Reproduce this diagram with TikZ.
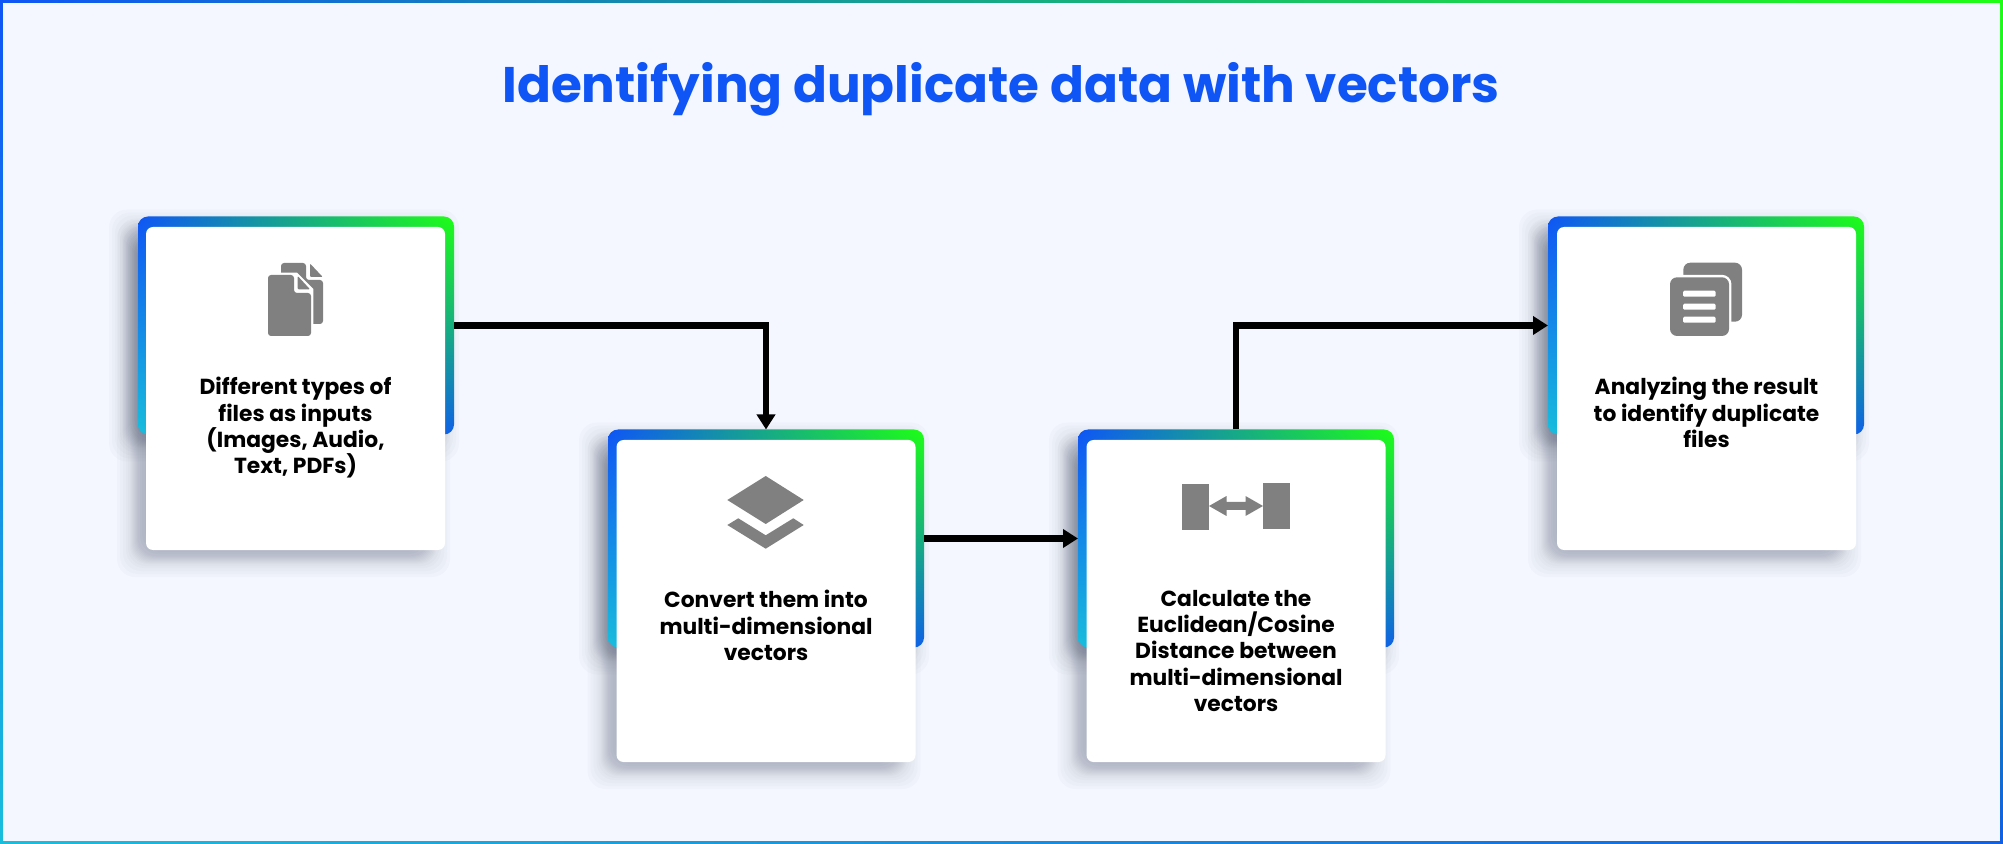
\documentclass[tikz,border=0pt]{standalone}
\usepackage{fontspec}
\setmainfont{Poppins}
\usetikzlibrary{arrows.meta,positioning,calc,shadings,backgrounds}
\definecolor{gblue}{HTML}{0F55F5}
\definecolor{ggreen}{HTML}{1EFF14}
\definecolor{gcyan}{HTML}{18BEDC}
\definecolor{gblue2}{HTML}{0F60E6}
\definecolor{pagebg}{HTML}{F4F7FF}
\definecolor{icongray}{HTML}{808080}
\definecolor{shadowcol}{HTML}{1E2846}
\begin{document}
\begin{tikzpicture}[x=0.5pt,y=-0.5pt,
        gradfill/.style={upper left=gblue,upper right=ggreen,lower left=gcyan,lower right=gblue2},
        frame/.style={gradfill,rounded corners=5pt,minimum width=158pt,minimum height=109pt,inner sep=0pt,outer sep=0pt},
        card/.style={fill=white,rounded corners=3.5pt,minimum width=149.5pt,inner sep=0pt,outer sep=0pt},
        label/.style={font=\bfseries\fontsize{10.9}{13.1}\selectfont,align=center,inner sep=0pt},
        flow/.style={line width=3.1pt,-{Triangle[length=7.5pt,width=9pt]}},
        icon/.style={fill=icongray},
        gap/.style={draw=white,line width=2.4pt,fill=white}]
        \useasboundingbox (0,0) rectangle (2003,844);
        \node[font=\bfseries\fontsize{25}{30}\selectfont,text=gblue,inner sep=0pt] (title) at (1001,89.5) {Identifying duplicate data with vectors};

        \node[frame] (f1) at (296,325.5) {};
        \node[frame] (f2) at (766,538.5) {};
        \node[frame] (f3) at (1236,538.5) {};
        \node[frame] (f4) at (1706,325.5) {};
        \node[card,minimum height=161.5pt] (c1) at (295.5,388.5) {};
        \node[card,minimum height=161pt] (c2) at (766,601) {};
        \node[card,minimum height=161pt] (c3) at (1236,601) {};
        \node[card,minimum height=161.5pt] (c4) at (1706.5,388.5) {};

        \begin{scope}[on background layer]
                \shade[gradfill] (0,0) rectangle (2003,844);
                \fill[pagebg] (3,3) rectangle (2000,841);
                \foreach \c in {f1,f2,f3,f4,c1,c2,c3,c4} {
                        \foreach \s in {-17,-14,-11,-8,-6,-4,-3,-2,-1,0,1,2,3,4,6,8,11,14,17} {
                                \fill[shadowcol,opacity=.018,rounded corners=9pt] ($(\c.south west)+(-12-\s,10+\s)$) rectangle ($(\c.north east)+(-12+\s,10-\s)$);
                        }
                }
        \end{scope}

        \node[label,below=75pt of c1.north] (t1) {Different types of\\files as inputs\\(Images, Audio,\\Text, PDFs)};
        \node[label,below=75pt of c2.north] (t2) {Convert them into\\multi-dimensional\\vectors};
        \node[label,below=75pt of c3.north] (t3) {Calculate the\\Euclidean/Cosine\\Distance between\\multi-dimensional\\vectors};
        \node[label,below=75pt of c4.north] (t4) {Analyzing the result\\to identify duplicate\\files};

        \draw[flow] (f1.east) -| (f2.north);
        \draw[flow] (f2) -- (f3);
        \draw[flow] (f3.north) |- (f4.west);

        % files icon
        \fill[icon,rounded corners=1.5pt] (281,263) -- (306,263) -- (306,280) -- (323,280) -- (323,324) -- (281,324) -- cycle;
        \fill[icon,rounded corners=.5pt] (310,263.5) -- (322.7,277) -- (310,277) -- cycle;
        \filldraw[gap] (268,275) -- (296,275) -- (311,290) -- (311,336) -- (268,336) -- cycle;
        \fill[icon,rounded corners=1.5pt] (268,275) -- (294,275) -- (294,293) -- (311,293) -- (311,336) -- (268,336) -- cycle;
        \fill[icon,rounded corners=.5pt] (297.7,276) -- (310,289.3) -- (297.7,289.3) -- cycle;

        % layers icon
        \fill[icon] (765.7,476) -- (803.7,500) -- (765.7,524) -- (727.3,500) -- cycle;
        \fill[icon] (727.3,525) -- (738.3,518.3) -- (765.7,535.3) -- (793.3,518.3) -- (803.7,525) -- (765.7,548.7) -- cycle;

        % distance icon
        \fill[icon] (1182,484) rectangle (1209,530);
        \fill[icon] (1263,483) rectangle (1290,529);
        \fill[icon] (1209,506) -- (1226.5,496) -- (1226.5,502) -- (1245.5,502) -- (1245.5,496) -- (1263,506) -- (1245.5,516) -- (1245.5,510) -- (1226.5,510) -- (1226.5,516) -- cycle;

        % result icon
        \fill[icon,rounded corners=3.5pt] (1683.3,262.7) rectangle (1742,321.7);
        \filldraw[gap,rounded corners=3.5pt] (1670,277.3) rectangle (1729,336);
        \fill[icon,rounded corners=3.5pt] (1670,277.3) rectangle (1729,336);
        \foreach \y in {290.7,303.7,316.7} {
                \fill[white,rounded corners=.7pt] (1683,\y) rectangle (1715.7,\y+6);
        }
\end{tikzpicture}
\end{document}
